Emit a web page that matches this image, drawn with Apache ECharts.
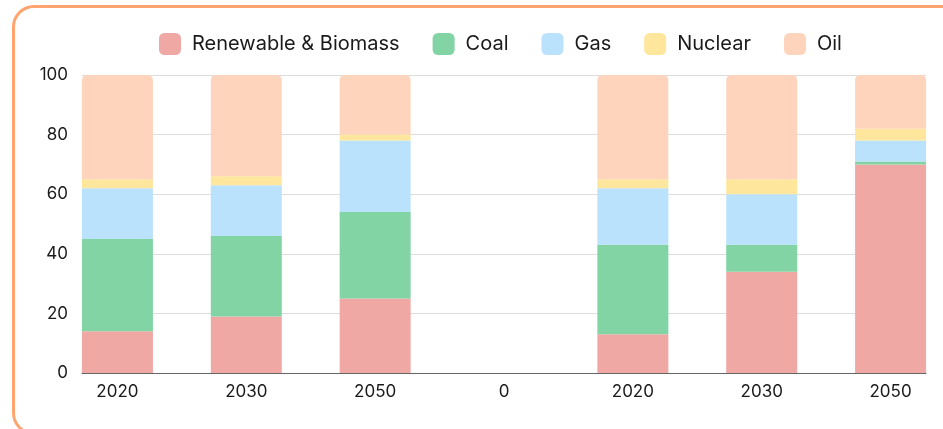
<!DOCTYPE html>
<html>
<head>
<meta charset="utf-8">
<script src="https://cdn.jsdelivr.net/npm/echarts@6/dist/echarts.min.js"></script>
<style>
  html, body { margin: 0; padding: 0; width: 943px; height: 429px; overflow: hidden; background: #fff; }
  #card {
    position: absolute; left: 12px; top: 5px; width: 1000px; height: 430px;
    border: 3px solid #ffa46f; border-radius: 22px; box-sizing: border-box; background: #fff;
  }
  #chart { position: absolute; left: 0; top: 0; width: 1000px; height: 429px; }
</style>
</head>
<body>
<div id="card"></div>
<div id="chart"></div>
<script>
// Energy mix shares (%) per scenario year; "0" is an empty spacer column
const categories = ['2020', '2030', '2050', '0', '2020', '2030', '2050'];
const renewable = [14, 19, 25, null, 13, 34, 70];
const coal      = [31, 27, 29, null, 30,  9,  1];
const gas       = [17, 17, 24, null, 19, 17,  7];
const nuclear   = [ 3,  3,  2, null,  3,  5,  4];
const oil       = [35, 34, 20, null, 35, 35, 18];
const yTicks = [0, 20, 40, 60, 80, 100];

const colors = {
  renewable: '#f0a8a5',
  coal: '#82d4a5',
  gas: '#bae2fd',
  nuclear: '#fee79c',
  oil: '#fed5bc'
};

const chart = echarts.init(document.getElementById('chart'));

function barSeries(name, arr, color, top) {
  return {
    name: name,
    type: 'bar',
    stack: 'mix',
    xAxisIndex: 1,
    yAxisIndex: 1,
    barWidth: 71,
    data: arr,
    itemStyle: { color: color, borderRadius: top ? [5, 5, 0, 0] : 0 },
    emphasis: { disabled: true }
  };
}

const yMin = yTicks[0];
const yMax = yTicks[yTicks.length - 1];

chart.setOption({
  animation: false,
  textStyle: { fontFamily: 'Inter' },
  legend: {
    left: 159,
    top: 33,
    padding: 0,
    itemWidth: 22,
    itemHeight: 22,
    itemGap: 33,
    icon: 'roundRect',
    textStyle: { fontSize: 20, color: '#1a1a1a', fontFamily: 'Inter', padding: [2, 0, 0, 6] },
    data: ['Renewable & Biomass', 'Coal', 'Gas', 'Nuclear', 'Oil']
  },
  grid: [
    // frame: value gridlines, y labels and the baseline
    { left: 82, width: 844, top: 75, bottom: 56 },
    // bars: category bands, wider so the outer bars sit flush with the frame
    { left: 53, width: 902, top: 75, bottom: 56 }
  ],
  xAxis: [
    {
      gridIndex: 0,
      type: 'value',
      min: 0,
      max: 1,
      splitLine: { show: false },
      axisTick: { show: false },
      axisLabel: { show: false },
      axisLine: { show: true, lineStyle: { color: '#666', width: 1 } }
    },
    {
      gridIndex: 1,
      type: 'category',
      data: categories,
      axisLine: { show: false },
      axisTick: { show: false },
      splitLine: { show: false },
      axisLabel: { fontSize: 17, color: '#1a1a1a', margin: 10, interval: 0 }
    }
  ],
  yAxis: [
    {
      gridIndex: 0,
      type: 'value',
      min: yMin,
      max: yMax,
      interval: 20,
      axisLine: { show: false },
      axisTick: { show: false },
      splitLine: { lineStyle: { color: '#dddddd', width: 1 } },
      axisLabel: { fontSize: 17, color: '#1a1a1a', margin: 14 }
    },
    {
      gridIndex: 1,
      type: 'value',
      min: yMin,
      max: yMax,
      show: false,
      splitLine: { show: false }
    }
  ],
  series: [
    barSeries('Renewable & Biomass', renewable, colors.renewable, false),
    barSeries('Coal', coal, colors.coal, false),
    barSeries('Gas', gas, colors.gas, false),
    barSeries('Nuclear', nuclear, colors.nuclear, false),
    barSeries('Oil', oil, colors.oil, true)
  ]
});
</script>
</body>
</html>
